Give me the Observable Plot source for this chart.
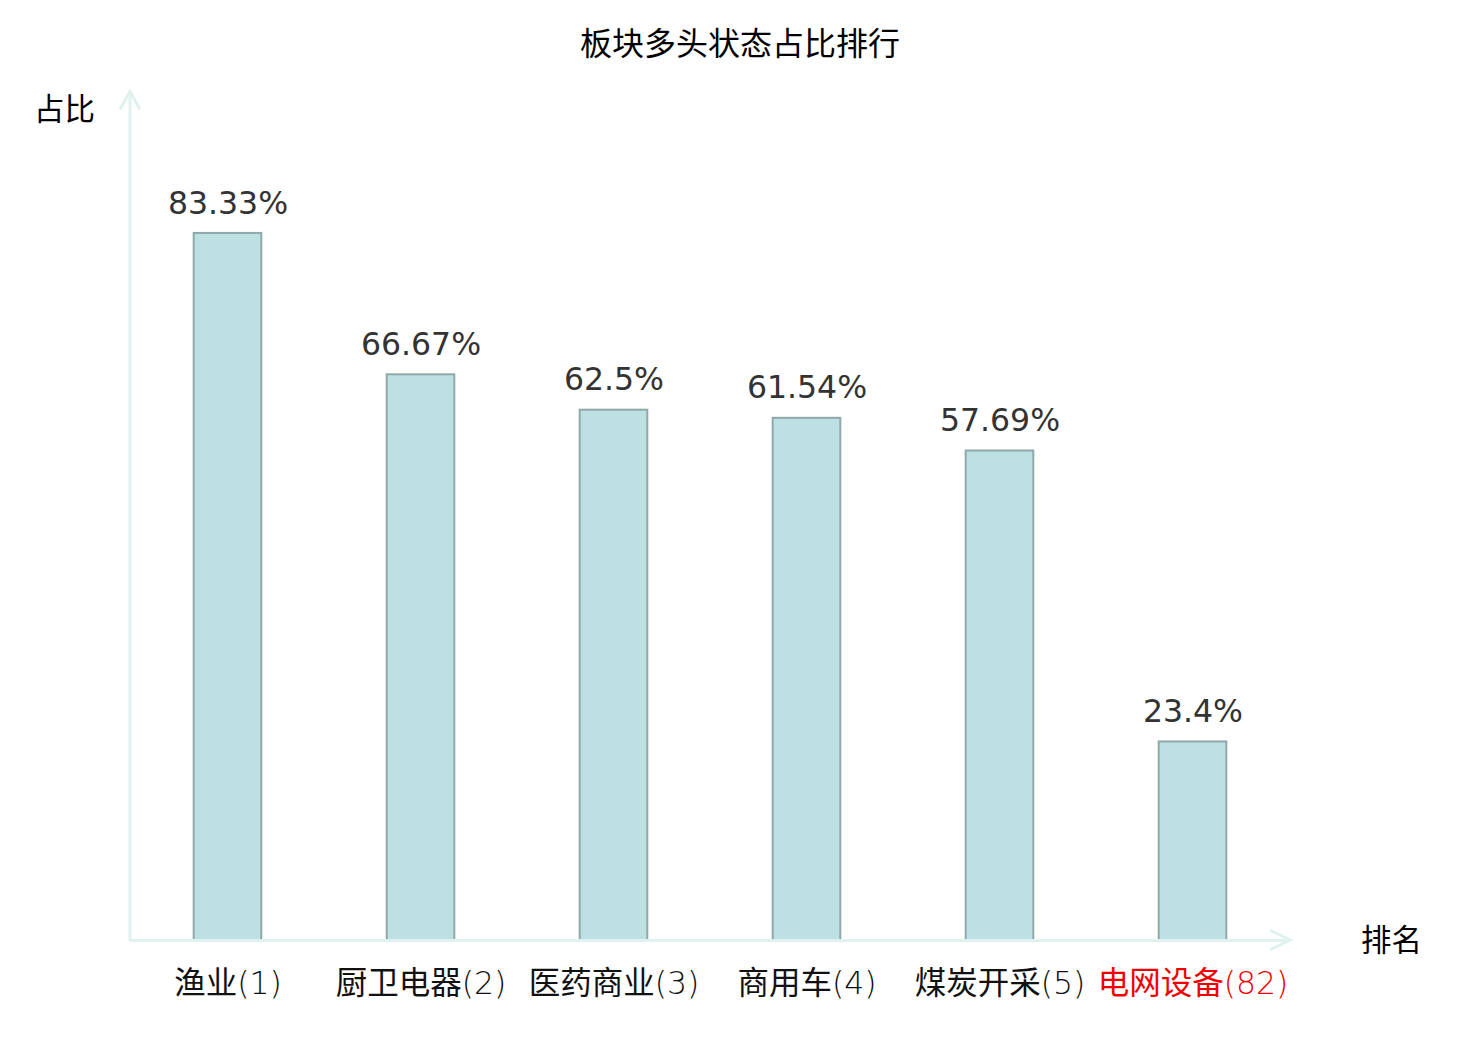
<!DOCTYPE html>
<html><head><meta charset="utf-8">
<script src="https://cdn.jsdelivr.net/npm/d3@7"></script>
<script src="https://cdn.jsdelivr.net/npm/@observablehq/plot@0.6"></script>
<style>
body{margin:0;background:#fff}
#title{height:82px;margin-bottom:2px;display:flex;align-items:center;justify-content:center;font:32px "Noto Sans CJK SC";color:#000}
#chart svg{display:block}
</style>
</head><body>
<div id="title">板块多头状态占比排行</div>
<div id="chart"></div>
<script>
const categories = ["渔业(1)", "厨卫电器(2)", "医药商业(3)", "商用车(4)", "煤炭开采(5)", "电网设备(82)"];
const values = [83.33, 66.67, 62.5, 61.54, 57.69, 23.4];
const valueLabels = ["83.33%", "66.67%", "62.5%", "61.54%", "57.69%", "23.4%"];
const highlight = "电网设备(82)";
const yLabel = "占比";
const xLabel = "排名";

const data = categories.map((c, i) => ({name: c, value: values[i], label: valueLabels[i]}));
const axisColor = "#dff2ef";

const chart = Plot.plot({
  width: 1480, height: 956,
  marginLeft: 130, marginRight: 190, marginTop: 7.5, marginBottom: 100,
  style: {fontFamily: "'Noto Sans CJK SC'", background: "#fff"},
  x: {domain: categories, padding: 0, axis: null},
  y: {domain: [0, 100], axis: null},
  marks: [
    Plot.barY(data, {x: "name", y: "value", fill: "#bde0e3", stroke: "#8fa9aa", strokeWidth: 2, insetLeft: 62.7, insetRight: 62.7}),
    Plot.ruleY([0], {stroke: axisColor, strokeWidth: 3}),
    Plot.text(data, {x: "name", y: "value", text: "label", dy: -30, lineAnchor: "middle", fontSize: 31.5, fill: "#333", fontFamily: "DejaVu Sans"}),
    Plot.text(data, {x: "name", text: "name", frameAnchor: "bottom", dy: 43, lineAnchor: "middle", fontSize: 31.5,
      fontFamily: "'DejaVu Sans', 'Noto Sans CJK SC'",
      fill: d => d.name === highlight ? "#f00000" : "#111"}),
    Plot.text([yLabel], {frameAnchor: "top-left", dx: -66, dy: 18.5, textAnchor: "middle", lineAnchor: "middle", fontSize: 30.5, fill: "#000"}),
    Plot.text([xLabel], {frameAnchor: "bottom-right", dx: 101, dy: 1, textAnchor: "middle", lineAnchor: "middle", fontSize: 30.5, fill: "#000"})
  ]
});
document.getElementById("chart").appendChild(chart);

// split tick labels: CJK part regular, rank part in light weight
d3.select(chart).selectAll("text").each(function() {
  const t = this.textContent;
  if (!categories.includes(t)) return;
  const k = t.indexOf("(");
  const el = d3.select(this);
  el.text(null);
  el.append("tspan").attr("font-weight", 400).text(t.slice(0, k));
  el.append("tspan").attr("font-weight", 200).text(t.slice(k));
});

const xs = chart.scale("x"), ys = chart.scale("y");
const x0 = xs.range[0], x1 = xs.range[1];
const y0 = ys.apply(0), yTop = ys.apply(100);
const g = d3.select(chart).append("g").attr("fill", "none").attr("stroke", axisColor).attr("stroke-width", 3);
g.append("path").attr("d", `M${x0},${y0 + 1.5}L${x0},${yTop}`);
g.append("path").attr("d", `M${x0 - 10},${yTop + 18}L${x0},${yTop}L${x0 + 10},${yTop + 18}`);
g.append("path").attr("d", `M${x1 - 20},${y0 - 10}L${x1},${y0}L${x1 - 20},${y0 + 10}`);
</script>
</body></html>
